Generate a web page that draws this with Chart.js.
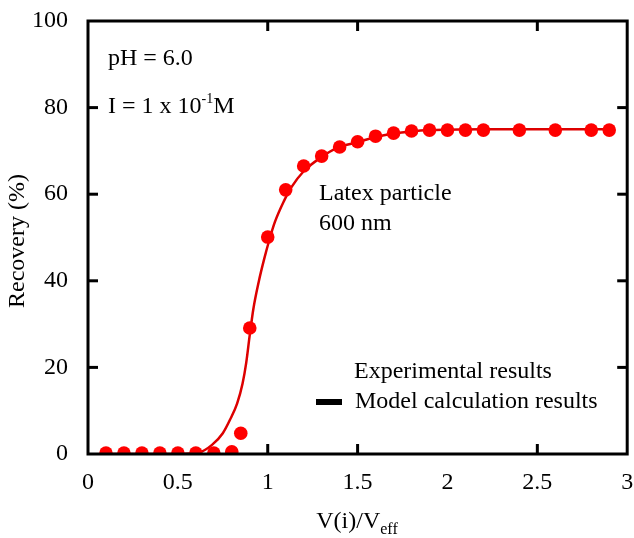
<!DOCTYPE html>
<html>
<head>
<meta charset="utf-8">
<script src="https://cdn.jsdelivr.net/npm/chart.js@4"></script>
<style>
html,body{margin:0;padding:0;background:#fff;}
canvas{display:block;}
</style>
</head>
<body>
<canvas id="c" width="634" height="538"></canvas>
<script>
// Experimental results
const expX = [0.1,0.2,0.3,0.4,0.5,0.6,0.7,0.8,0.85,0.9,1.0,1.1,1.2,1.3,1.4,1.5,1.6,1.7,1.8,1.9,2.0,2.1,2.2,2.4,2.6,2.8,2.9];
const expY = [0.2,0.2,0.2,0.2,0.2,0.2,0.2,0.5,4.8,29.1,50.1,61.0,66.5,68.8,70.9,72.1,73.4,74.1,74.6,74.8,74.8,74.8,74.8,74.8,74.8,74.8,74.8];
// Model calculation results
const modX = [0.1,0.5,0.62,0.69,0.75,0.79,0.83,0.86,0.88,0.90,0.92,0.95,0.98,1.01,1.04,1.09,1.13,1.20,1.30,1.38,1.5,1.6,1.7,1.8,1.9,2.0,2.2,2.5,2.9];
const modY = [0,0,0.4,2.1,4.8,7.9,11.7,16.3,21.0,27.5,33.5,39.8,45.0,49.6,53.6,58.4,61.5,65.3,68.6,70.6,72.0,73.2,74.0,74.5,74.8,74.9,75.0,75.0,75.0];
// Axis ticks
const xTicks = [0,0.5,1,1.5,2,2.5,3];
const xTickLabels = ["0","0.5","1","1.5","2","2.5","3"];
const yTicks = [0,20,40,60,80,100];
const xMarks = [1,1.5,2.5];
const yMarks = [20,40,60,80];

const FONT = '"Liberation Serif", "Times New Roman", serif';

const decor = {
  id: 'decor',
  afterDatasetsDraw(chart) {
    const ctx = chart.ctx, a = chart.chartArea;
    const xs = chart.scales.x, ys = chart.scales.y;
    ctx.save();
    ctx.strokeStyle = '#000';
    ctx.lineWidth = 3;
    ctx.lineCap = 'butt';
    ctx.strokeRect(a.left, a.top, a.right - a.left, a.bottom - a.top);
    xMarks.forEach(v => {
      const px = xs.getPixelForValue(v);
      ctx.beginPath(); ctx.moveTo(px, a.bottom); ctx.lineTo(px, a.bottom - 10); ctx.stroke();
      ctx.beginPath(); ctx.moveTo(px, a.top); ctx.lineTo(px, a.top + 10); ctx.stroke();
    });
    yMarks.forEach(v => {
      const py = ys.getPixelForValue(v);
      ctx.beginPath(); ctx.moveTo(a.left, py); ctx.lineTo(a.left + 10, py); ctx.stroke();
      ctx.beginPath(); ctx.moveTo(a.right, py); ctx.lineTo(a.right - 10, py); ctx.stroke();
    });
    ctx.fillStyle = '#000';
    ctx.textBaseline = 'middle';
    ctx.textAlign = 'left';
    ctx.font = '24px ' + FONT;
    ctx.fillText('pH = 6.0', 108, 59);
    let t = 'I = 1 x 10';
    ctx.fillText(t, 108, 107);
    let w = ctx.measureText(t).width;
    ctx.font = '14px ' + FONT;
    ctx.fillText('-1', 108 + w, 99);
    let w2 = ctx.measureText('-1').width;
    ctx.font = '24px ' + FONT;
    ctx.fillText('M', 108 + w + w2, 107);
    ctx.fillText('Latex particle', 319, 194);
    ctx.fillText('600 nm', 319, 224);
    ctx.fillText('Experimental results', 354, 372);
    ctx.fillText('Model calculation results', 355, 402);
    ctx.fillRect(316, 399, 26, 6);
    // Axis titles
    const mainT = 'V(i)/V';
    ctx.font = '24px ' + FONT;
    const mw = ctx.measureText(mainT).width;
    ctx.font = '16px ' + FONT;
    const sw = ctx.measureText('eff').width;
    const sx = 357 - (mw + sw) / 2;
    ctx.font = '24px ' + FONT;
    ctx.fillText(mainT, sx, 522);
    ctx.font = '16px ' + FONT;
    ctx.fillText('eff', sx + mw, 530);
    ctx.save();
    ctx.translate(18, 241);
    ctx.rotate(-Math.PI / 2);
    ctx.textAlign = 'center';
    ctx.font = '24px ' + FONT;
    ctx.fillText('Recovery (%)', 0, 0);
    ctx.restore();
    ctx.restore();
  }
};

new Chart(document.getElementById('c'), {
  type: 'scatter',
  data: {
    datasets: [
      {
        label: 'Model calculation results',
        data: modX.map((x, i) => ({x, y: modY[i]})),
        showLine: true,
        borderColor: '#dd0000',
        borderWidth: 2.5,
        pointRadius: 0,
        cubicInterpolationMode: 'monotone',
        fill: false,
        order: 2
      },
      {
        label: 'Experimental results',
        data: expX.map((x, i) => ({x, y: expY[i]})),
        showLine: false,
        backgroundColor: '#ff0000',
        borderColor: '#ff0000',
        borderWidth: 0,
        pointRadius: 6.8,
        order: 1
      }
    ]
  },
  options: {
    responsive: false,
    animation: false,
    layout: { padding: { left: 0, right: 3, top: 21, bottom: 0 } },
    plugins: { legend: { display: false }, tooltip: { enabled: false } },
    scales: {
      x: {
        type: 'linear', min: 0, max: 3,
        grid: { display: false, drawTicks: false },
        border: { display: false },
        afterBuildTicks(s) { s.ticks = xTicks.map(v => ({value: v})); },
        ticks: {
          color: '#000', font: { family: FONT, size: 24 }, padding: 14,
          maxRotation: 0, autoSkip: false,
          callback: (v) => { const i = xTicks.indexOf(v); return i >= 0 ? xTickLabels[i] : ''; }
        },
        afterFit(s) { s.height = 84; s.paddingLeft = 0; s.paddingRight = 0; }
      },
      y: {
        type: 'linear', min: 0, max: 100,
        grid: { display: false, drawTicks: false },
        border: { display: false },
        afterBuildTicks(s) { s.ticks = yTicks.map(v => ({value: v})); },
        ticks: { color: '#000', font: { family: FONT, size: 24 }, padding: 20 },
        afterFit(s) { s.width = 88; s.paddingTop = 0; s.paddingBottom = 0; }
      }
    }
  },
  plugins: [decor]
});
</script>
</body>
</html>
